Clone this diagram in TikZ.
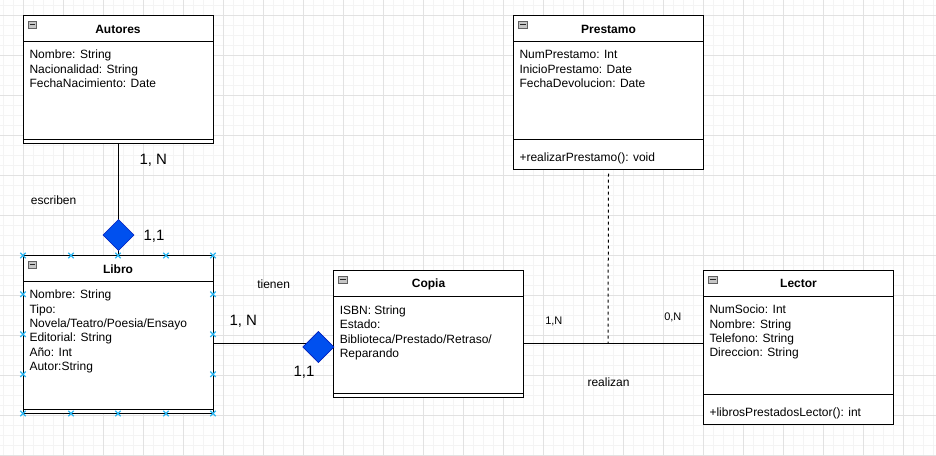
\documentclass[tikz,border=0pt]{standalone}
\usepackage{fontspec}
\setmainfont{Liberation Sans}
\usetikzlibrary{shapes.geometric}
\definecolor{gridmajor}{HTML}{E2E2E2}
\definecolor{gridminor}{HTML}{F4F4F4}
\definecolor{erblue}{HTML}{0050EF}
\definecolor{erblueline}{HTML}{001DBC}
\definecolor{selblue}{HTML}{29B6F2}
\newcommand\umlbox[7]{%
  \node[clsbox, minimum width={(#4-#2)*0.75pt}, minimum height={(#5-#3)*0.75pt}] (#1) at ({(#2+#4)/2},{(#3+#5)/2}) {};
  \draw[sepline] (#2,#6) -- (#4,#6);
  \draw[sepline] (#2,#7) -- (#4,#7);
  \draw[fill=gray!45, draw=gray!75!black, line width=0.5pt] ({#2+5},{#3+5.5}) rectangle ({#2+13.5},{#3+12.5});
  \draw[line width=0.75pt, black!85] ({#2+6.5},{#3+9}) -- ({#2+12},{#3+9});
}
\begin{document}
\begin{tikzpicture}[x=0.75pt,y=-0.75pt,
  clsbox/.style={draw=black,line width=0.75pt,fill=white,inner sep=0pt,outer sep=0pt},
  sepline/.style={draw=black,line width=0.75pt},
  title/.style={font=\fontsize{9}{10.8}\selectfont\bfseries, anchor=base, inner sep=0pt},
  attr/.style={font=\fontsize{9}{10.8}\selectfont, anchor=base west, inner sep=0pt},
  biglbl/.style={font=\fontsize{11.25}{13.5}\selectfont, anchor=base west, inner sep=0pt},
  smalllbl/.style={font=\fontsize{8.25}{10}\selectfont, anchor=base west, inner sep=0pt},
  rel/.style={draw=black,line width=0.75pt},
  dashrel/.style={draw=black,line width=0.75pt,dash pattern=on 2.25pt off 2.25pt},
  rombo/.style={diamond, fill=erblue, draw=erblueline, line width=0.5pt, minimum width=23.25pt, minimum height=23.25pt, inner sep=0pt, outer sep=0pt},
  selmark/.style={draw=selblue, line width=0.9pt}
]
\useasboundingbox (0,0) rectangle (936,455);
\fill[white] (0,0) rectangle (936,455);
% grid
\foreach \x in {3,13,...,933} \draw[gridminor, line width=0.75pt] (\x,0) -- (\x,455);
\foreach \y in {5,15,...,455} \draw[gridminor, line width=0.75pt] (0,\y) -- (936,\y);
\foreach \x in {23,63,...,933} \draw[gridmajor, line width=0.75pt] (\x,0) -- (\x,455);
\foreach \y in {15,55,...,455} \draw[gridmajor, line width=0.75pt] (0,\y) -- (936,\y);

% connector end points
\coordinate (libroR) at (213,343);
\coordinate (copiaR) at (523.5,343);
\coordinate (lectorL) at (703.5,343);
\coordinate (dashEnd) at (608,343);

% classes
\umlbox{autores}{23}{15.5}{213}{143.5}{41.5}{139.5}
\umlbox{libro}{23}{255.5}{213}{413.5}{281.5}{409.5}
\umlbox{copia}{333.5}{270.5}{523.5}{397.5}{296.5}{393.5}
\umlbox{prestamo}{513.5}{15.5}{703.5}{169.5}{41.5}{139.5}
\umlbox{lector}{703.5}{270.5}{893.5}{424}{296}{394.5}

\draw[rel] (autores.south) -- (libro.north);
\draw[rel] (libroR) -- (318,343);
\draw[rel] (copiaR) -- (lectorL);
\draw[dashrel] ([yshift=-3pt]prestamo.south) -- (dashEnd);

\node[rombo] (d1) at (118.5,235) {};
\node[rombo] (d2) at (318.3,347) {};

% titles
\node[title] (tA) at (118,33.3) {Autores};
\node[title] (tL) at (118,273) {Libro};
\node[title] (tC) at (428.5,287.6) {Copia};
\node[title] (tP) at (608.5,33.3) {Prestamo};
\node[title] (tR) at (798.5,287.6) {Lector};

% Autores
\node[attr] (a1) at (29.3,58.6) {Nombre: String};
\node[attr] (a2) at (29.3,73) {Nacionalidad: String};
\node[attr] (a3) at (29.3,87.4) {FechaNacimiento: Date};
% Libro
\node[attr] (b1) at (29.3,298.6) {Nombre: String};
\node[attr] (b2) at (29.3,313) {Tipo:};
\node[attr] (b3) at (29.3,327.4) {Novela/Teatro/Poesia/Ensayo};
\node[attr] (b4) at (29.3,341.8) {Editorial: String};
\node[attr] (b5) at (29.3,356.2) {Año: Int};
\node[attr] (b6) at (29.3,370.6) {Autor:String};
% Copia
\node[attr] (c1) at (339.5,314.3) {ISBN: String};
\node[attr] (c2) at (339.5,328.7) {Estado:};
\node[attr] (c3) at (339.5,343.1) {Biblioteca/Prestado/Retraso/};
\node[attr] (c4) at (339.5,357.5) {Reparando};
% Prestamo
\node[attr] (p1) at (519.3,58.6) {NumPrestamo: Int};
\node[attr] (p2) at (519.3,73) {InicioPrestamo: Date};
\node[attr] (p3) at (519.3,87.4) {FechaDevolucion: Date};
\node[attr] (p4) at (519.3,161) {+realizarPrestamo(): void};
% Lector
\node[attr] (r1) at (709.3,313.6) {NumSocio: Int};
\node[attr] (r2) at (709.3,328) {Nombre: String};
\node[attr] (r3) at (709.3,342.4) {Telefono: String};
\node[attr] (r4) at (709.3,356.8) {Direccion: String};
\node[attr] (r5) at (709.3,416) {+librosPrestadosLector(): int};

% relation labels
\node[biglbl] (l1) at (139.3,164.4) {1, N};
\node[attr] (l2) at (30.7,204) {escriben};
\node[biglbl] (l3) at (143.3,240.5) {1,1};
\node[attr] (l4) at (257,288) {tienen};
\node[biglbl] (l5) at (229.3,325.4) {1, N};
\node[biglbl] (l6) at (293.3,376) {1,1};
\node[smalllbl] (l7) at (545,324) {1,N};
\node[smalllbl] (l8) at (664,320.6) {0,N};
\node[attr] (l9) at (587.3,386.5) {realizan};

% selection markers on Libro
\foreach \x/\y in {23/255.5,71/255.5,118/255.5,166/255.5,213/255.5,
                   23/413.5,71/413.5,118/413.5,166/413.5,213/413.5,
                   23/294.3,23/334.3,23/374.3,213/294.3,213/334.3,213/374.3}
  \draw[selmark] ({\x-2.7},{\y-2.7}) -- ({\x+2.7},{\y+2.7}) ({\x-2.7},{\y+2.7}) -- ({\x+2.7},{\y-2.7});
\end{tikzpicture}
\end{document}
